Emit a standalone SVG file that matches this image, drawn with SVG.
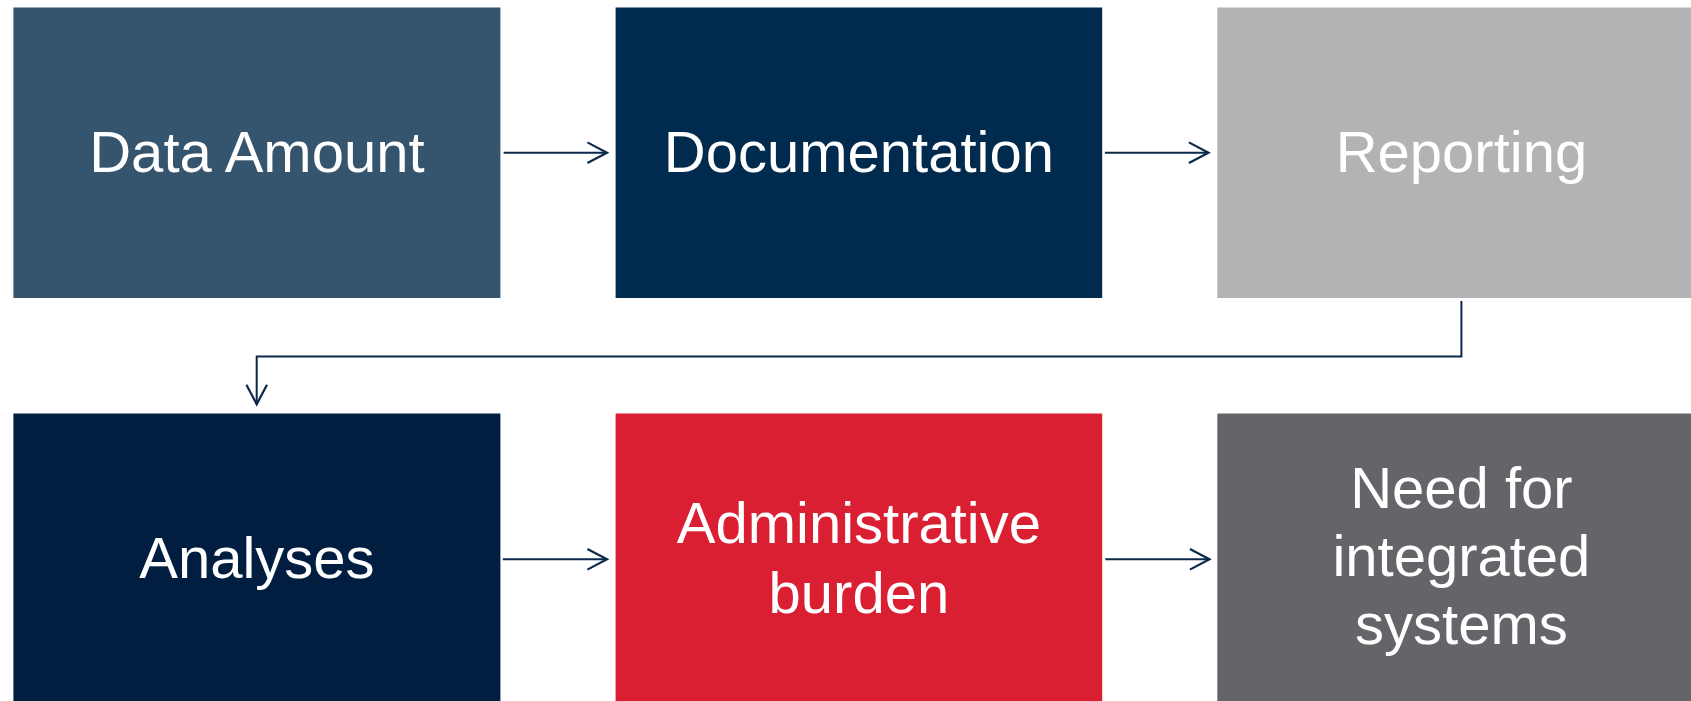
<svg xmlns="http://www.w3.org/2000/svg" width="1691" height="701" viewBox="0 0 1691 701">
<style>
.lbl{font-family:"Liberation Sans",Arial,sans-serif;font-size:58px;fill:#ffffff;text-anchor:middle}
.conn{fill:none;stroke:#0b2a4b;stroke-width:2}
</style>
<defs>
<marker id="arr" markerUnits="userSpaceOnUse" markerWidth="30" markerHeight="30" viewBox="-25 -15 30 30" refX="0" refY="0" orient="auto">
<path d="M-19.6,-10.3 L0,0 L-19.6,10.3" fill="none" stroke="#0b2a4b" stroke-width="2.2"/>
</marker>
</defs>
<rect width="1691" height="701" fill="#ffffff"/>
<g id="n1"><rect x="13.4" y="7.5" width="487" height="290.5" fill="#35556f"/><text class="lbl" x="256.9" y="171.7">Data Amount</text></g>
<g id="n2"><rect x="615.6" y="7.5" width="486.6" height="290.5" fill="#012b4e"/><text class="lbl" x="858.9" y="171.7">Documentation</text></g>
<g id="n3"><rect x="1217.3" y="7.5" width="488" height="290.5" fill="#b2b3b5"/><text class="lbl" x="1461.4" y="171.7">Reporting</text></g>
<g id="n4"><rect x="13.4" y="413.5" width="487" height="290.5" fill="#011e41"/><text class="lbl" x="256.9" y="578">Analyses</text></g>
<g id="n5"><rect x="615.6" y="413.5" width="486.6" height="290.5" fill="#da1f33"/><text class="lbl" x="858.9" y="543">Administrative</text><text class="lbl" x="858.9" y="612.5">burden</text></g>
<g id="n6"><rect x="1217.3" y="413.5" width="488" height="290.5" fill="#636569"/><text class="lbl" x="1461.4" y="508">Need for</text><text class="lbl" x="1461.4" y="576">integrated</text><text class="lbl" x="1461.4" y="644">systems</text></g>
<g id="connectors">
<path class="conn" d="M503.6,152.7 H607" marker-end="url(#arr)"/>
<path class="conn" d="M1104.9,152.7 H1208.5" marker-end="url(#arr)"/>
<path class="conn" d="M1461.4,301 V356.5 H256.7 V404.3" marker-end="url(#arr)"/>
<path class="conn" d="M502.8,559.3 H607" marker-end="url(#arr)"/>
<path class="conn" d="M1105.3,559.3 H1209.5" marker-end="url(#arr)"/>
</g>
</svg>
